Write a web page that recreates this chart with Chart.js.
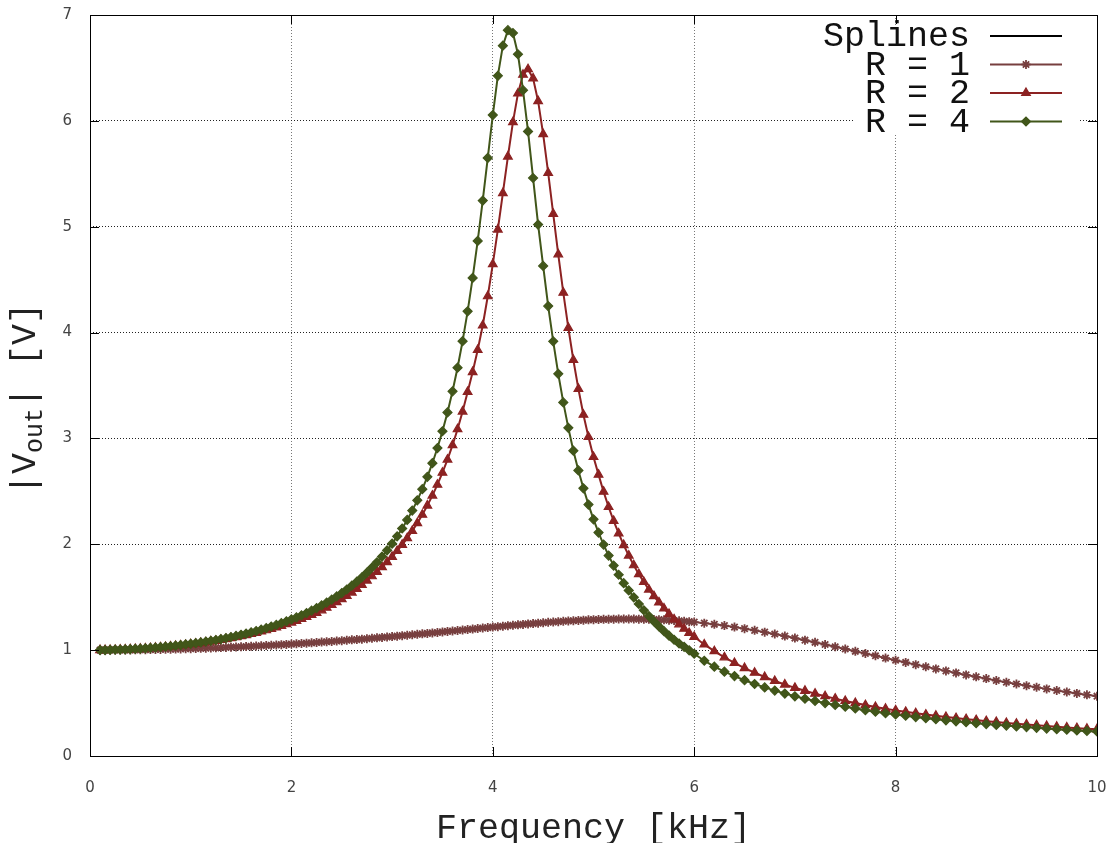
<!DOCTYPE html>
<html>
<head>
<meta charset="utf-8">
<script src="https://cdn.jsdelivr.net/npm/chart.js@4.4.0/dist/chart.umd.min.js"></script>
<style>
  html, body { margin: 0; padding: 0; background: #fff; }
  #wrap { width: 1107px; height: 843px; }
</style>
</head>
<body>
<div id="wrap"><canvas id="chart" width="1107" height="843"></canvas></div>
<script>
// Frequency [kHz]
const freq = [
  0.10,0.15,0.20,0.25,0.30,0.35,0.40,0.45,0.50,0.55,
  0.60,0.65,0.70,0.75,0.80,0.85,0.90,0.95,1.00,1.05,
  1.10,1.15,1.20,1.25,1.30,1.35,1.40,1.45,1.50,1.55,
  1.60,1.65,1.70,1.75,1.80,1.85,1.90,1.95,2.00,2.05,
  2.10,2.15,2.20,2.25,2.30,2.35,2.40,2.45,2.50,2.55,
  2.60,2.65,2.70,2.75,2.80,2.85,2.90,2.95,3.00,3.05,
  3.10,3.15,3.20,3.25,3.30,3.35,3.40,3.45,3.50,3.55,
  3.60,3.65,3.70,3.75,3.80,3.85,3.90,3.95,4.00,4.05,
  4.10,4.15,4.20,4.25,4.30,4.35,4.40,4.45,4.50,4.55,
  4.60,4.65,4.70,4.75,4.80,4.85,4.90,4.95,5.00,5.05,
  5.10,5.15,5.20,5.25,5.30,5.35,5.40,5.45,5.50,5.55,
  5.60,5.65,5.70,5.75,5.80,5.85,5.90,5.95,6.00,
  6.1,6.2,6.3,6.4,6.5,6.6,6.7,6.8,6.9,7.0,
  7.1,7.2,7.3,7.4,7.5,7.6,7.7,7.8,7.9,8.0,
  8.1,8.2,8.3,8.4,8.5,8.6,8.7,8.8,8.9,9.0,
  9.1,9.2,9.3,9.4,9.5,9.6,9.7,9.8,9.9,10.0
];

// |Vout| [V], R = 1
const vR1 = [
  1.000,1.000,1.001,1.001,1.001,1.002,1.002,1.003,1.004,1.004,
  1.005,1.006,1.007,1.008,1.009,1.010,1.011,1.013,1.014,1.016,
  1.017,1.019,1.020,1.022,1.024,1.026,1.028,1.030,1.032,1.034,
  1.036,1.039,1.041,1.044,1.046,1.049,1.052,1.054,1.057,1.060,
  1.063,1.066,1.069,1.072,1.076,1.079,1.082,1.086,1.089,1.093,
  1.097,1.100,1.104,1.108,1.112,1.116,1.120,1.124,1.128,1.132,
  1.137,1.141,1.145,1.150,1.154,1.158,1.163,1.167,1.172,1.177,
  1.181,1.186,1.190,1.195,1.199,1.204,1.209,1.213,1.218,1.222,
  1.226,1.231,1.235,1.239,1.243,1.248,1.251,1.255,1.259,1.263,
  1.266,1.269,1.273,1.276,1.278,1.281,1.283,1.286,1.288,1.289,
  1.291,1.292,1.293,1.294,1.294,1.294,1.294,1.293,1.292,1.291,
  1.290,1.288,1.286,1.283,1.280,1.277,1.273,1.269,1.265,
  1.255,1.244,1.232,1.218,1.203,1.187,1.170,1.152,1.133,1.114,
  1.094,1.074,1.053,1.032,1.011,0.989,0.968,0.947,0.925,0.904,
  0.884,0.863,0.843,0.823,0.804,0.785,0.766,0.748,0.731,0.713,
  0.697,0.680,0.664,0.649,0.634,0.619,0.605,0.591,0.578,0.565
];

// |Vout| [V], R = 2
const vR2 = [
  1.001,1.001,1.002,1.003,1.005,1.006,1.008,1.011,1.013,1.016,
  1.019,1.022,1.026,1.030,1.034,1.039,1.044,1.049,1.055,1.061,
  1.067,1.073,1.081,1.088,1.096,1.104,1.113,1.122,1.132,1.142,
  1.153,1.164,1.176,1.188,1.201,1.215,1.230,1.245,1.260,1.277,
  1.294,1.313,1.332,1.353,1.376,1.401,1.427,1.454,1.482,1.512,
  1.544,1.578,1.617,1.657,1.698,1.740,1.784,1.832,1.882,1.937,
  1.995,2.058,2.126,2.200,2.279,2.366,2.460,2.563,2.676,2.800,
  2.936,3.087,3.254,3.439,3.627,3.836,4.067,4.343,4.646,4.973,
  5.317,5.663,5.988,6.259,6.436,6.488,6.401,6.186,5.875,5.508,
  5.121,4.739,4.377,4.044,3.741,3.468,3.224,3.014,2.825,2.658,
  2.497,2.352,2.221,2.102,1.993,1.893,1.802,1.718,1.644,1.572,
  1.510,1.451,1.394,1.341,1.291,1.244,1.202,1.162,1.126,
  1.054,0.990,0.932,0.879,0.831,0.787,0.746,0.709,0.675,0.644,
  0.616,0.589,0.565,0.542,0.520,0.500,0.481,0.463,0.446,0.431,
  0.417,0.404,0.391,0.380,0.369,0.358,0.348,0.339,0.329,0.321,
  0.312,0.305,0.297,0.290,0.283,0.276,0.269,0.263,0.257,0.252
];

// |Vout| [V], R = 4
const vR4 = [
  1.001,1.001,1.002,1.004,1.005,1.007,1.009,1.012,1.014,1.017,
  1.021,1.024,1.028,1.033,1.037,1.042,1.048,1.054,1.060,1.066,
  1.073,1.081,1.088,1.096,1.105,1.114,1.124,1.134,1.145,1.156,
  1.168,1.181,1.194,1.208,1.223,1.238,1.255,1.272,1.290,1.309,
  1.329,1.350,1.373,1.397,1.422,1.449,1.477,1.507,1.539,1.573,
  1.609,1.647,1.688,1.732,1.780,1.830,1.884,1.943,2.006,2.075,
  2.149,2.230,2.318,2.415,2.521,2.637,2.766,2.909,3.068,3.246,
  3.445,3.668,3.919,4.201,4.516,4.866,5.247,5.650,6.055,6.425,
  6.710,6.857,6.830,6.629,6.290,5.900,5.460,5.020,4.630,4.250,
  3.917,3.610,3.340,3.100,2.884,2.698,2.529,2.375,2.236,2.111,
  1.997,1.893,1.799,1.712,1.633,1.564,1.499,1.436,1.377,1.322,
  1.271,1.224,1.179,1.137,1.098,1.063,1.031,0.998,0.966,
  0.900,0.844,0.797,0.755,0.716,0.680,0.648,0.618,0.590,0.564,
  0.541,0.520,0.500,0.482,0.465,0.449,0.433,0.419,0.405,0.392,
  0.380,0.368,0.357,0.347,0.337,0.328,0.319,0.310,0.302,0.294,
  0.287,0.279,0.273,0.266,0.259,0.253,0.248,0.242,0.237,0.232
];

const xTicks = [0, 2, 4, 6, 8, 10];
const yTicks = [0, 1, 2, 3, 4, 5, 6, 7];
const seriesLabels = ['Splines', 'R = 1', 'R = 2', 'R = 4'];
const seriesColors = ['#000000', '#773f3f', '#8c2222', '#41561a'];
const seriesMarkers = [false, 'star', 'triangle', 'rectRot'];
const markerRadius = [0, 4.5, 5, 4.5];

const MONO = '"Liberation Mono", "DejaVu Sans Mono", monospace';
// plot frame in canvas pixels
const AREA = { left: 90, top: 15, right: 1097, bottom: 756 };

function toPoints(vals) {
    return freq.map((f, i) => ({ x: f, y: vals[i] }));
}

function lineSet(i, vals, order) {
    return {
        label: seriesLabels[i],
        data: vals ? toPoints(vals) : [],
        showLine: true,
        borderColor: seriesColors[i],
        backgroundColor: seriesColors[i],
        borderWidth: 2,
        pointStyle: seriesMarkers[i],
        pointRadius: markerRadius[i],
        pointBorderWidth: seriesMarkers[i] === 'star' ? 1.8 : 1.2,
        pointBorderColor: seriesColors[i],
        pointBackgroundColor: seriesColors[i],
        order: order
    };
}

// pin the plot area to where the reference has it
const pinArea = {
    id: 'pinArea',
    afterLayout(chart) {
        const a = chart.chartArea;
        Object.assign(a, AREA);
        a.width = a.right - a.left;
        a.height = a.bottom - a.top;
        const x = chart.scales.x, y = chart.scales.y;
        Object.assign(x, { left: a.left, right: a.right, width: a.width, top: a.bottom, bottom: 843, height: 843 - a.bottom });
        Object.assign(y, { left: 0, right: a.left, width: a.left, top: a.top, bottom: a.bottom, height: a.height });
        x.configure();
        y.configure();
    }
};

// gnuplot-like frame, inward ticks, key and axis titles
const decorations = {
    id: 'decorations',
    afterDatasetsDraw(chart) {
        const { ctx, chartArea: a, scales } = chart;
        const x = scales.x, y = scales.y;
        ctx.save();

        // opaque key box
        ctx.fillStyle = '#fff';
        ctx.fillRect(853, 25, 227, 108);

        // key
        ctx.font = '35px ' + MONO;
        ctx.textAlign = 'right';
        ctx.textBaseline = 'alphabetic';
        const rows = [36, 64.5, 93, 121.5];
        seriesLabels.forEach((lab, i) => {
            const ry = rows[i];
            ctx.fillStyle = '#111';
            ctx.fillText(lab, 970, ry + 10);
            ctx.strokeStyle = seriesColors[i];
            ctx.lineWidth = 2;
            ctx.beginPath();
            ctx.moveTo(990, ry);
            ctx.lineTo(1062, ry);
            ctx.stroke();
            if (seriesMarkers[i]) {
                ctx.fillStyle = seriesColors[i];
                ctx.lineWidth = seriesMarkers[i] === 'star' ? 1.8 : 1.2;
                Chart.helpers.drawPoint(ctx, { pointStyle: seriesMarkers[i], radius: markerRadius[i], borderWidth: ctx.lineWidth, rotation: 0 }, 1026, ry);
            }
        });

        // inward tick marks on all four sides
        ctx.strokeStyle = '#000';
        ctx.lineWidth = 1;
        ctx.beginPath();
        xTicks.slice(1, -1).forEach(v => {
            const px = Math.round(x.getPixelForValue(v)) + 0.5;
            ctx.moveTo(px, a.bottom); ctx.lineTo(px, a.bottom - 9);
            ctx.moveTo(px, a.top); ctx.lineTo(px, a.top + 9);
        });
        yTicks.slice(1, -1).forEach(v => {
            const py = Math.round(y.getPixelForValue(v)) + 0.5;
            ctx.moveTo(a.left, py); ctx.lineTo(a.left + 9, py);
            ctx.moveTo(a.right, py); ctx.lineTo(a.right - 9, py);
        });
        ctx.stroke();

        // border
        ctx.strokeRect(Math.round(a.left) + 0.5, Math.round(a.top) + 0.5,
            Math.round(a.right - a.left), Math.round(a.bottom - a.top));

        // x axis title
        ctx.fillStyle = '#222';
        ctx.font = '35px ' + MONO;
        ctx.textAlign = 'center';
        ctx.fillText('Frequency [kHz]', (a.left + a.right) / 2, 838);

        // y axis title with subscript, rotated
        ctx.translate(35, 399);
        ctx.rotate(-Math.PI / 2);
        ctx.textAlign = 'left';
        const big = '35px ' + MONO, small = '25px ' + MONO;
        const parts = [['|V', big, 0], ['out', small, 7], ['| [V]', big, 0]];
        let total = 0;
        parts.forEach(p => { ctx.font = p[1]; total += ctx.measureText(p[0]).width; });
        let cx = -total / 2;
        parts.forEach(p => {
            ctx.font = p[1];
            ctx.fillText(p[0], cx, p[2]);
            cx += ctx.measureText(p[0]).width;
        });
        ctx.restore();
    }
};

const ctx = document.getElementById('chart').getContext('2d');
new Chart(ctx, {
    type: 'scatter',
    data: {
        datasets: [
            lineSet(0, null, 4),
            lineSet(1, vR1, 3),
            lineSet(2, vR2, 2),
            lineSet(3, vR4, 1)
        ]
    },
    options: {
        responsive: false,
        animation: false,
        events: [],
        layout: { padding: { left: 0, right: 10, top: 15, bottom: 0 } },
        plugins: {
            legend: { display: false },
            tooltip: { enabled: false }
        },
        scales: {
            x: {
                type: 'linear',
                min: 0,
                max: 10,
                afterBuildTicks: s => { s.ticks = xTicks.map(v => ({ value: v })); },
                afterFit: s => { s.height = 87; },
                ticks: { font: { family: 'DejaVu Sans', size: 15 }, color: '#444', padding: 23, maxRotation: 0 },
                grid: { color: '#777', lineWidth: 1, drawTicks: false },
                border: { display: false, dash: [1, 2] }
            },
            y: {
                type: 'linear',
                min: 0,
                max: 7,
                afterBuildTicks: s => { s.ticks = yTicks.map(v => ({ value: v })); },
                afterFit: s => { s.width = 90; },
                ticks: { font: { family: 'DejaVu Sans', size: 15 }, color: '#444', padding: 18 },
                grid: { color: '#222', lineWidth: 1, drawTicks: false },
                border: { display: false, dash: [1, 2] }
            }
        }
    },
    plugins: [pinArea, decorations]
});
</script>
</body>
</html>
